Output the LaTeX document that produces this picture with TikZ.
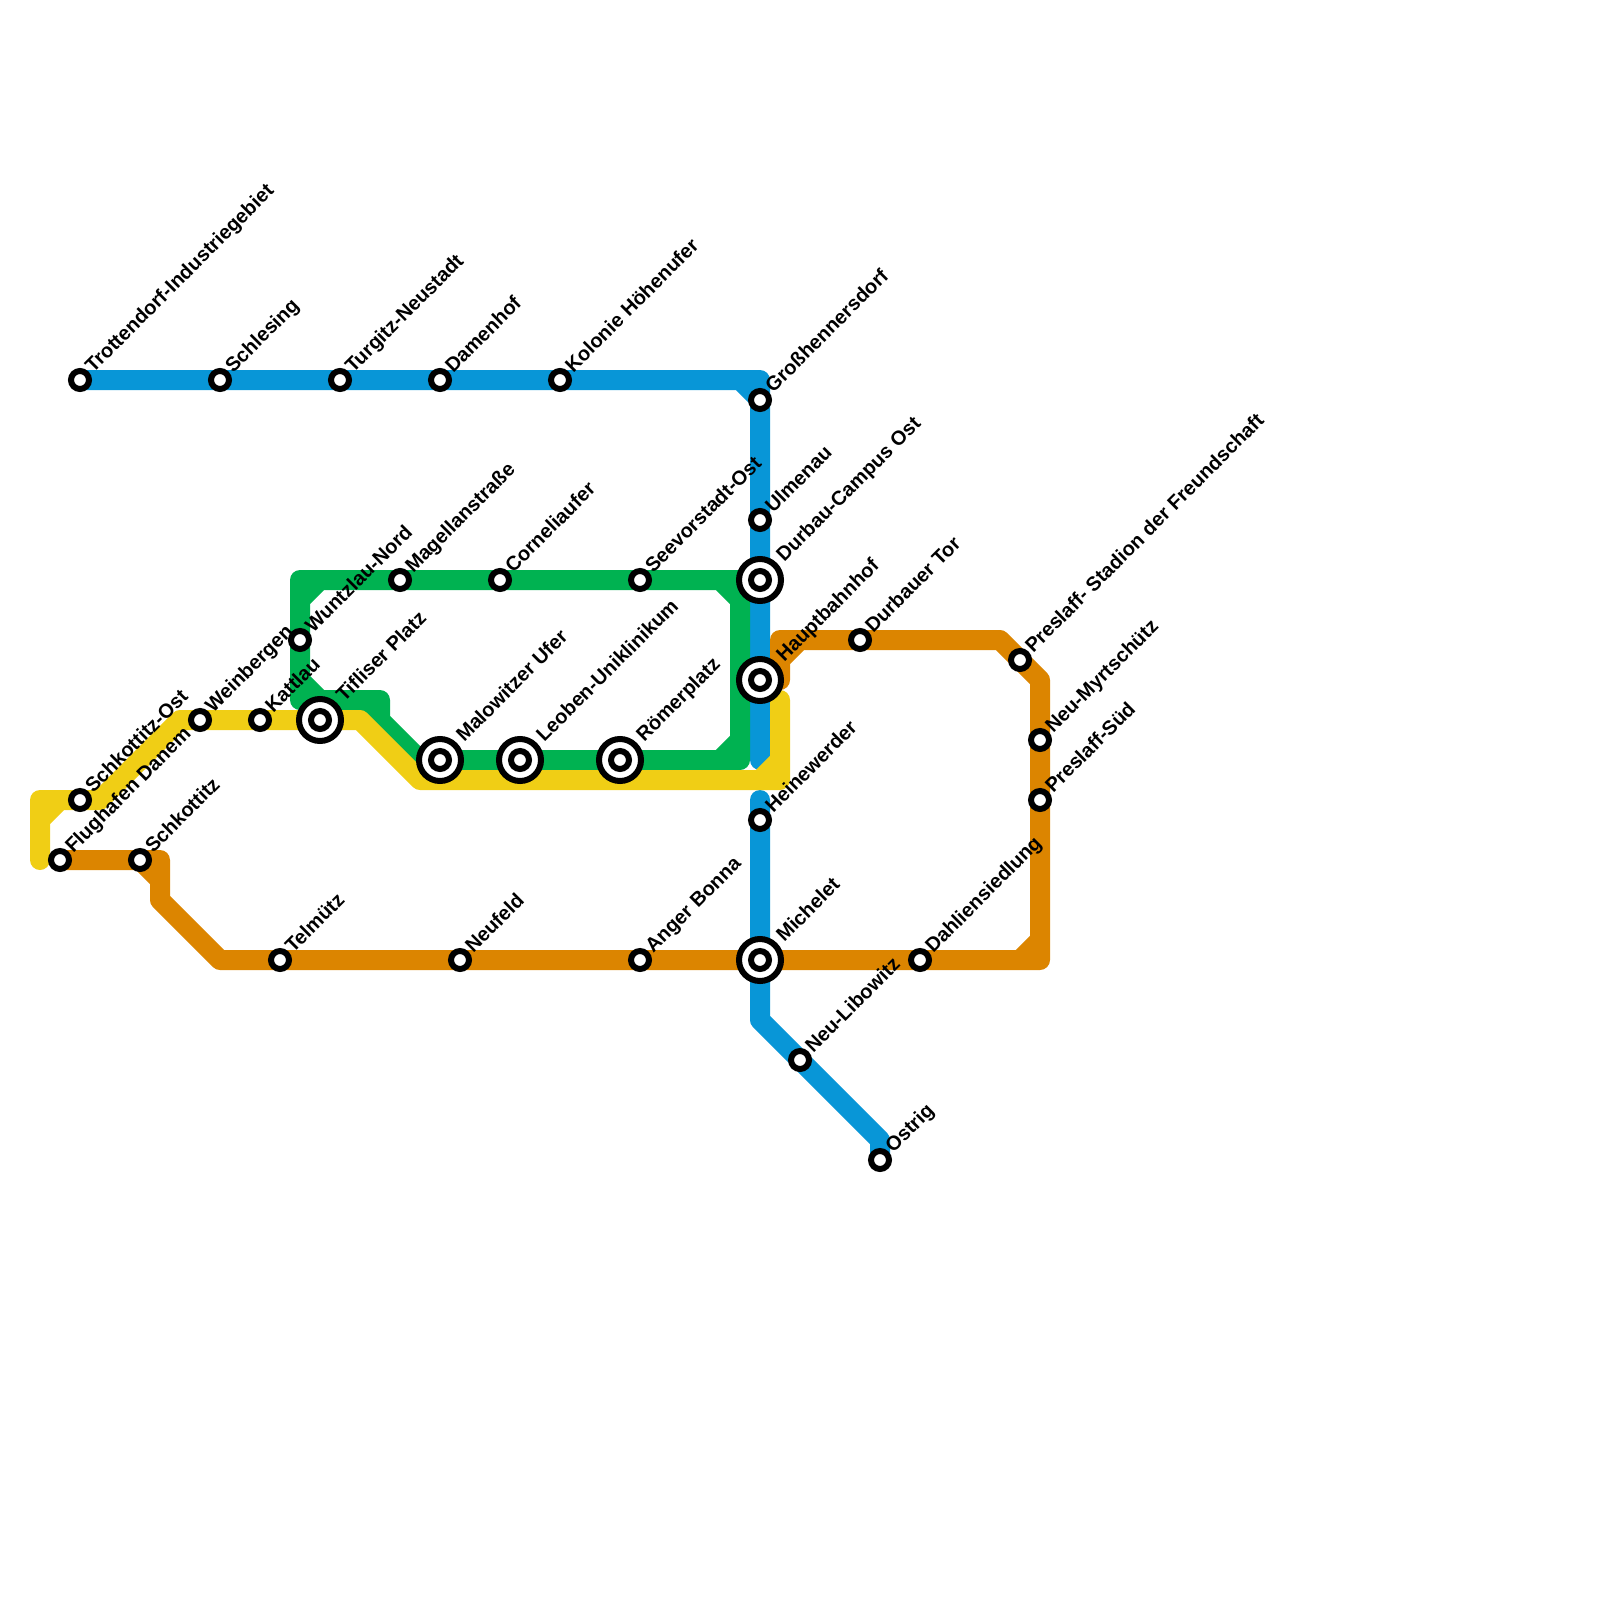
\documentclass[tikz,border=0pt]{standalone}
\usepackage{fontspec}
\usepackage{xcolor}
\usepackage{tikz}
\usetikzlibrary{
	backgrounds
}
\setmainfont{Liberation Sans}

\definecolor{lineblue}{HTML}{0896D7}
\definecolor{linegreen}{HTML}{00B251}
\definecolor{lineyellow}{HTML}{F0CE15}
\definecolor{lineorange}{HTML}{DC8500}

\tikzset{
	rail/.style={line width=10pt,line join=round,line cap=round},
	stop/.style={draw=black,fill=white,circle,line width=3pt,inner sep=0pt,minimum size=9pt},
	hub/.style={draw=black,fill=white,circle,line width=3pt,inner sep=0pt,minimum size=21pt,
		path picture={\draw[line width=3pt] (path picture bounding box.center) circle (4.5pt);}},
	lbl/.style={xshift=6.5pt,yshift=3pt,rotate=45,anchor=base west,inner sep=0pt,font=\bfseries\fontsize{10pt}{12pt}\selectfont},
	hublbl/.style={xshift=12pt,yshift=8.5pt,rotate=45,anchor=base west,inner sep=0pt,font=\bfseries\fontsize{10pt}{12pt}\selectfont}
}

\begin{document}
\begin{tikzpicture}[x=0.5pt,y=-0.5pt]
		
		\useasboundingbox (0,0) rectangle (1600,1600);
		
		%---------------- Stations, blue ----------------%
		
		\node[stop] (trottendorf) at (80,380) {};
		\node[stop] (schlesing) at (220,380) {};
		\node[stop] (turgitz) at (340,380) {};
		\node[stop] (damenhof) at (440,380) {};
		\node[stop] (kolonie) at (560,380) {};
		\node[stop] (gross) at (760,400) {};
		\node[stop] (ulmenau) at (760,520) {};
		\node[hub] (durbau) at (760,580) {};
		\node[hub] (hbf) at (760,680) {};
		\node[stop] (heinewerder) at (760,820) {};
		\node[hub] (michelet) at (760,960) {};
		\node[stop] (libowitz) at (800,1060) {};
		\node[stop] (ostrig) at (880,1160) {};
		
		%---------------- Stations, green ----------------%
		
		\node[stop] (wuntzlau) at (300,640) {};
		\node[stop] (magellan) at (400,580) {};
		\node[stop] (cornelia) at (500,580) {};
		\node[stop] (seevorstadt) at (640,580) {};
		\node[hub] (tiflis) at (320,720) {};
		\node[hub] (malowitz) at (440,760) {};
		\node[hub] (leoben) at (520,760) {};
		\node[hub] (roemer) at (620,760) {};
		
		%---------------- Stations, yellow ----------------%
		
		\node[stop] (schkottost) at (80,800) {};
		\node[stop] (weinbergen) at (200,720) {};
		\node[stop] (kattlau) at (260,720) {};
		
		%---------------- Stations, orange ----------------%
		
		\node[stop] (flughafen) at (60,860) {};
		\node[stop] (schkott) at (140,860) {};
		\node[stop] (telmuetz) at (280,960) {};
		\node[stop] (neufeld) at (460,960) {};
		\node[stop] (anger) at (640,960) {};
		\node[stop] (dahlien) at (920,960) {};
		\node[stop] (myrt) at (1040,740) {};
		\node[stop] (preslaffs) at (1040,800) {};
		\node[stop] (preslaffn) at (1020,660) {};
		\node[stop] (durbauer) at (860,640) {};
		
		%---------------- Bends ----------------%
		
		\coordinate (blueA) at (740,380);
		\coordinate (blueB) at (760,380);
		\coordinate (blueC) at (760,760);
		\coordinate (blueD) at (760,800);
		\coordinate (blueE) at (760,1020);
		\coordinate (blueF) at (880,1140);
		
		\coordinate (greenA) at (300,600);
		\coordinate (greenB) at (300,580);
		\coordinate (greenC) at (320,580);
		\coordinate (greenD) at (720,580);
		\coordinate (greenE) at (740,580);
		\coordinate (greenF) at (740,600);
		\coordinate (greenG) at (740,740);
		\coordinate (greenH) at (740,760);
		\coordinate (greenI) at (720,760);
		\coordinate (greenJ) at (420,760);
		\coordinate (greenK) at (380,720);
		\coordinate (greenL) at (380,700);
		\coordinate (greenM) at (320,700);
		\coordinate (greenN) at (300,700);
		\coordinate (greenO) at (300,680);
		\coordinate (greenP) at (360,700);
		
		\coordinate (yelA) at (780,700);
		\coordinate (yelB) at (780,760);
		\coordinate (yelC) at (780,780);
		\coordinate (yelD) at (760,780);
		\coordinate (yelE) at (420,780);
		\coordinate (yelF) at (360,720);
		\coordinate (yelG) at (180,720);
		\coordinate (yelH) at (100,800);
		\coordinate (yelI) at (60,800);
		\coordinate (yelJ) at (40,800);
		\coordinate (yelK) at (40,820);
		\coordinate (yelL) at (40,860);
		
		\coordinate (oraA) at (160,860);
		\coordinate (oraB) at (160,880);
		\coordinate (oraC) at (160,900);
		\coordinate (oraD) at (220,960);
		\coordinate (oraE) at (1020,960);
		\coordinate (oraF) at (1040,960);
		\coordinate (oraG) at (1040,940);
		\coordinate (oraH) at (1040,680);
		\coordinate (oraI) at (1000,640);
		\coordinate (oraJ) at (800,640);
		\coordinate (oraK) at (780,640);
		\coordinate (oraL) at (780,660);
		\coordinate (oraM) at (780,680);
		
		%---------------- Lines ----------------%
		
		\begin{pgfonlayer}{background}
			\draw[rail,lineblue] (trottendorf.center)--(schlesing.center)--(turgitz.center)--(damenhof.center)--(kolonie.center)--(blueA)--(blueB)--(gross.center)--(blueA)--(gross.center)--(ulmenau.center)--(durbau.center)--(hbf.center)--(blueC);
			\draw[rail,lineblue] (blueD)--(heinewerder.center)--(michelet.center)--(blueE)--(libowitz.center)--(blueF)--(ostrig.center);
			
			\draw[rail,lineorange] (flughafen.center)--(schkott.center)--(oraA)--(oraB)--(schkott.center)--(oraB)--(oraC)--(oraD)--(telmuetz.center)--(neufeld.center)--(anger.center)--(michelet.center)--(dahlien.center)--(oraE)--(oraF)--(oraG)--(oraE)--(oraG)--(preslaffs.center)--(myrt.center)--(oraH)--(preslaffn.center)--(oraI)--(durbauer.center)--(oraJ)--(oraK)--(oraL)--(oraJ)--(oraL)--(oraM);
			
			\draw[rail,linegreen] (greenA)--(greenB)--(greenC)--(greenA)--(wuntzlau.center)--(greenO)--(greenN)--(greenM)--(greenO)--(greenM)--(greenP)--(greenL)--(greenK)--(greenP)--(greenK)--(greenJ)--(malowitz.center)--(leoben.center)--(roemer.center)--(greenI)--(greenH)--(greenG)--(greenI)--(greenG)--(greenF)--(greenE)--(greenD)--(greenF)--(greenD)--(seevorstadt.center)--(cornelia.center)--(magellan.center)--(greenC);
			
			\draw[rail,lineyellow] (yelA)--(yelB)--(yelC)--(yelD)--(yelB)--(yelD)--(yelE)--(yelF)--(kattlau.center)--(weinbergen.center)--(yelG)--(yelH)--(schkottost.center)--(yelI)--(yelJ)--(yelK)--(yelI)--(yelK)--(yelL);
		\end{pgfonlayer}
		
		%---------------- Labels ----------------%
		
		\node[lbl] (trottendorf-t) at (trottendorf) {Trottendorf-Industriegebiet};
		\node[lbl] (schlesing-t) at (schlesing) {Schlesing};
		\node[lbl] (turgitz-t) at (turgitz) {Turgitz-Neustadt};
		\node[lbl] (damenhof-t) at (damenhof) {Damenhof};
		\node[lbl] (kolonie-t) at (kolonie) {Kolonie Höhenufer};
		\node[lbl] (gross-t) at (gross) {Großhennersdorf};
		\node[lbl] (ulmenau-t) at (ulmenau) {Ulmenau};
		\node[hublbl] (durbau-t) at (durbau) {Durbau-Campus Ost};
		\node[hublbl] (hbf-t) at (hbf) {Hauptbahnhof};
		\node[lbl] (heinewerder-t) at (heinewerder) {Heinewerder};
		\node[hublbl] (michelet-t) at (michelet) {Michelet};
		\node[lbl] (libowitz-t) at (libowitz) {Neu-Libowitz};
		\node[lbl] (ostrig-t) at (ostrig) {Ostrig};
		
		\node[lbl] (wuntzlau-t) at (wuntzlau) {Wuntzlau-Nord};
		\node[lbl] (magellan-t) at (magellan) {Magellanstraße};
		\node[lbl] (cornelia-t) at (cornelia) {Corneliaufer};
		\node[lbl] (seevorstadt-t) at (seevorstadt) {Seevorstadt-Ost};
		\node[hublbl] (tiflis-t) at (tiflis) {Tifliser Platz};
		\node[hublbl] (malowitz-t) at (malowitz) {Malowitzer Ufer};
		\node[hublbl] (leoben-t) at (leoben) {Leoben-Uniklinikum};
		\node[hublbl] (roemer-t) at (roemer) {Römerplatz};
		
		\node[lbl] (schkottost-t) at (schkottost) {Schkottitz-Ost};
		\node[lbl] (weinbergen-t) at (weinbergen) {Weinbergen};
		\node[lbl] (kattlau-t) at (kattlau) {Kattlau};
		
		\node[lbl] (flughafen-t) at (flughafen) {Flughafen Danem};
		\node[lbl] (schkott-t) at (schkott) {Schkottitz};
		\node[lbl] (telmuetz-t) at (telmuetz) {Telmütz};
		\node[lbl] (neufeld-t) at (neufeld) {Neufeld};
		\node[lbl] (anger-t) at (anger) {Anger Bonna};
		\node[lbl] (dahlien-t) at (dahlien) {Dahliensiedlung};
		\node[lbl] (myrt-t) at (myrt) {Neu-Myrtschütz};
		\node[lbl] (preslaffs-t) at (preslaffs) {Preslaff-Süd};
		\node[lbl] (preslaffn-t) at (preslaffn) {Preslaff- Stadion der Freundschaft};
		\node[lbl] (durbauer-t) at (durbauer) {Durbauer Tor};
		
	\end{tikzpicture}
\end{document}
